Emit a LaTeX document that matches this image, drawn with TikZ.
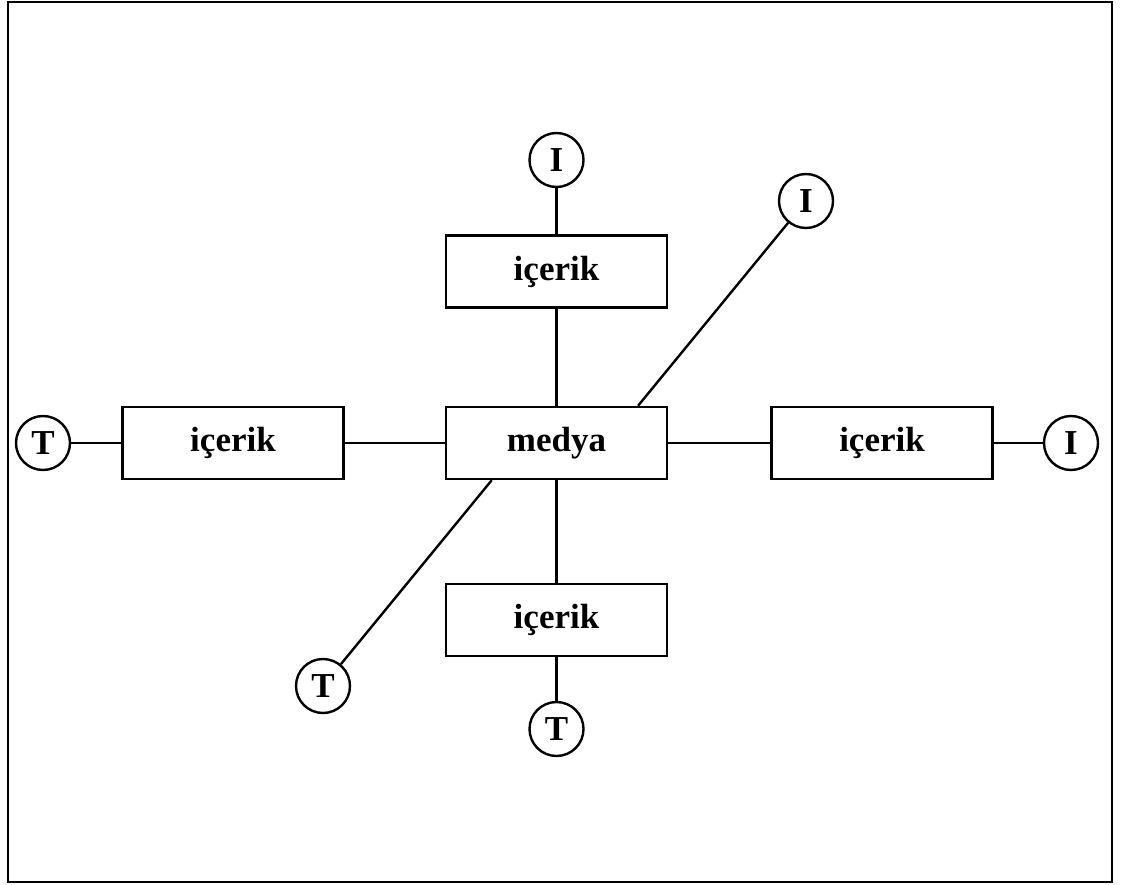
\documentclass[tikz,border=0pt]{standalone}
\usepackage{fontspec}
\setmainfont{Liberation Serif}
\usetikzlibrary{calc}
\tikzset{
  box/.style={draw, line width=2.4pt, minimum width=221pt, minimum height=72pt, inner sep=0pt,
    font=\fontsize{35}{40}\selectfont\bfseries},
  circ/.style={draw, circle, line width=2.4pt, minimum size=54pt, inner sep=0pt,
    font=\fontsize{35}{40}\selectfont\bfseries},
  link/.style={line width=2.4pt}
}
\begin{document}
\begin{tikzpicture}[x=1pt,y=-1pt]
\useasboundingbox (0,0) rectangle (1121,885);
\draw[line width=2.4pt] (8,2) rectangle (1112,882);
% boxes
\node[box] (medya) at (556.5,443) {medya};
\node[box] (top) at (556.5,271.5) {içerik};
\node[box] (bot) at (556.5,620) {içerik};
\node[box] (left) at (233,443) {içerik};
\node[box] (right) at (882,443) {içerik};
% circles
\node[circ] (cI1) at (556.5,160) {I};
\node[circ] (cI2) at (806,201) {I};
\node[circ] (cI3) at (1071,443) {I};
\node[circ] (cT1) at (43,443) {T};
\node[circ] (cT2) at (323,686) {T};
\node[circ] (cT3) at (556.5,729) {T};
% diagonal attachment points
\coordinate (d1) at ($(medya.north west)!0.865!(medya.north east)$);
\coordinate (d2) at ($(medya.south west)!0.21!(medya.south east)$);
% connectors
\draw[link] (cI1) -- (top);
\draw[link] (top) -- (medya);
\draw[link] (medya) -- (bot);
\draw[link] (bot) -- (cT3);
\draw[link] (cT1) -- (left);
\draw[link] (left) -- (medya);
\draw[link] (medya) -- (right);
\draw[link] (right) -- (cI3);
\draw[link] (cI2) -- (d1);
\draw[link] (d2) -- (cT2);
\end{tikzpicture}
\end{document}
